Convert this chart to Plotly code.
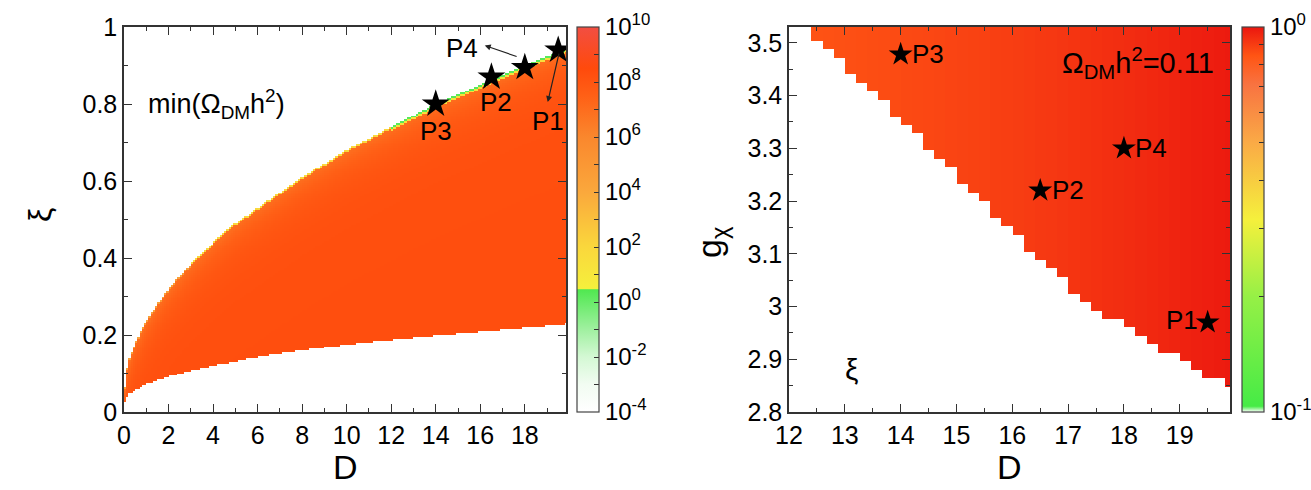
import numpy as np
import plotly.graph_objects as go

# ---------------- data ----------------
# Left panel: allowed region in (D, xi), upper and lower boundaries
D_up = [0, 0.1, 0.25, 0.5, 1, 1.5, 2, 3, 4, 5, 6, 8, 10, 12, 14, 16, 18, 19.9]
xi_up = [0.03, 0.10, 0.14, 0.18, 0.235, 0.28, 0.32, 0.385, 0.44, 0.49, 0.53,
         0.61, 0.68, 0.74, 0.80, 0.85, 0.90, 0.945]
D_lo = [0, 0.25, 0.5, 1, 2, 3, 4, 6, 8, 10, 12, 14, 16, 18, 19.9]
xi_lo = [0.022, 0.048, 0.058, 0.072, 0.092, 0.107, 0.12, 0.143, 0.16, 0.175,
         0.187, 0.198, 0.208, 0.218, 0.228]
# log10 of min(Omega h^2): interior, near-edge, edge rim values
logz_interior = 8.3
logz_edge_drop = 1.5
logz_rim_green = 0.3
logz_rim_yellow = 1.5

# Right panel: boundary of the Omega h^2 = 0.11 region in (D, g_chi)
g_edge = [2.80, 2.845, 2.9, 3.0, 3.1, 3.2, 3.3, 3.4, 3.5, 3.53]
D_edge = [21.0, 19.9, 19.0, 17.44, 16.37, 15.45, 14.5, 13.55, 12.6, 12.35]
# colour level across D (log10 of the plotted quantity)
D_col = [12, 14, 16, 18, 19.9]
logz_col = [-0.075, -0.062, -0.047, -0.027, -0.005]

# benchmark points
P_names = ["P1", "P2", "P3", "P4"]
P_D = [19.5, 16.5, 14.0, 18.0]
P_xi = [0.94, 0.87, 0.80, 0.895]
P_g = [2.97, 3.22, 3.478, 3.30]

# colour bar ticks
cb1_vals = list(range(-4, 11))
cb1_text = [f"10<sup>{v}</sup>" if v % 2 == 0 else "" for v in cb1_vals]
cb2_vals = [-1] + [float(np.log10(v)) for v in [0.2, 0.3, 0.4, 0.5, 0.6, 0.7, 0.8, 0.9]] + [0]
cb2_text = ["10<sup>-1</sup>"] + [""] * 8 + ["10<sup>0</sup>"]

# ---------------- build grids ----------------
dD1, dxi1 = 0.1, 0.005
Dc1 = np.arange(dD1 / 2, 19.9, dD1)
xic1 = np.arange(dxi1 / 2, 1.0, dxi1)
up = np.interp(Dc1, D_up, xi_up)
lo = np.interp(Dc1, D_lo, xi_lo)
Z1 = np.full((len(xic1), len(Dc1)), np.nan)
for j, d in enumerate(Dc1):
    inside = np.where((xic1 >= lo[j]) & (xic1 <= up[j]))[0]
    if len(inside) == 0:
        continue
    vals = logz_interior - logz_edge_drop * np.exp(-(up[j] - xic1[inside]) / 0.06)
    Z1[inside, j] = vals
    top = inside[-1]
    if d >= 12:
        Z1[top, j] = logz_rim_green
        if len(inside) > 1:
            Z1[inside[-2], j] = logz_rim_yellow
    elif d >= 3:
        Z1[top, j] = 2.0
    else:
        Z1[top, j] = 4.5

dD2, dg2 = 0.2, 0.016
Dc2 = np.arange(12.1, 20.0, dD2)
gc2 = np.arange(2.8 + dg2 / 2, 3.54, dg2)
edge = np.interp(gc2, g_edge, D_edge)
colv = np.interp(Dc2, D_col, logz_col)
Z2 = np.full((len(gc2), len(Dc2)), np.nan)
for i, g in enumerate(gc2):
    mask = Dc2 >= edge[i]
    Z2[i, mask] = colv[mask]

# ---------------- colour scales ----------------
def f1(v):
    return (v + 4) / 14.0

cs1 = [
    [0.0, "rgb(255,255,255)"],
    [f1(-3), "rgb(242,252,242)"],
    [f1(-2), "rgb(212,248,212)"],
    [f1(-1), "rgb(160,240,160)"],
    [f1(0.45), "rgb(80,232,80)"],
    [f1(0.47), "rgb(245,240,60)"],
    [f1(2), "rgb(250,215,60)"],
    [f1(4), "rgb(250,168,60)"],
    [f1(6), "rgb(250,135,45)"],
    [f1(7.5), "rgb(255,96,22)"],
    [f1(8.5), "rgb(255,74,12)"],
    [1.0, "rgb(242,78,66)"],
]
cs2 = [
    [0.0, "rgb(255,255,255)"],
    [0.015, "rgb(70,235,70)"],
    [0.3, "rgb(150,240,70)"],
    [0.5, "rgb(245,240,60)"],
    [0.7, "rgb(250,170,70)"],
    [0.85, "rgb(248,115,65)"],
    [0.925, "rgb(255,85,20)"],
    [1.0, "rgb(235,22,15)"],
]

FONT = "Liberation Sans, Arial, sans-serif"
W, H = 1311, 490

def px(x):
    return x / W

def py(y):
    return 1 - y / H

fig = go.Figure()
fig.add_trace(go.Heatmap(x=Dc1, y=xic1, z=Z1, coloraxis="coloraxis",
                         hoverongaps=False, xaxis="x", yaxis="y"))
fig.add_trace(go.Heatmap(x=Dc2, y=gc2, z=Z2, coloraxis="coloraxis2",
                         hoverongaps=False, xaxis="x2", yaxis="y2"))

fig.add_trace(go.Scatter(x=P_D, y=P_xi, mode="markers",
                         marker=dict(symbol="star", size=21, color="black"),
                         xaxis="x", yaxis="y", showlegend=False))
fig.add_trace(go.Scatter(x=P_D, y=P_g, mode="markers",
                         marker=dict(symbol="star", size=18, color="black"),
                         xaxis="x2", yaxis="y2", showlegend=False))

# plot-area geometry (pixels)
L1, R1, T, B = 124, 566, 27, 412
L2, R2 = 789, 1230
axcommon = dict(showline=True, linecolor="#333", linewidth=1.5, mirror="allticks",
                ticks="inside", ticklen=8, tickwidth=1.2, tickcolor="#333",
                showgrid=False, zeroline=False, automargin=False,
                tickfont=dict(family=FONT, size=25, color="black"))

cbcommon = dict(yanchor="middle", y=py((T + B) / 2), len=(B - T) / H, lenmode="fraction",
                thickness=22, thicknessmode="pixels", xpad=0, ypad=0,
                outlinewidth=1.2, outlinecolor="#444",
                ticks="inside", ticklen=5, tickcolor="#333",
                tickfont=dict(family=FONT, size=24, color="black"))

fig.update_layout(
    width=W, height=H, margin=dict(l=0, r=0, t=0, b=0, autoexpand=False),
    paper_bgcolor="white", plot_bgcolor="white", showlegend=False,
    font=dict(family=FONT, color="black"),
    xaxis=dict(domain=[px(L1), px(R1)], range=[0, 19.85], dtick=2, tick0=0,
               minor=dict(ticks="inside", dtick=1, ticklen=4, tickcolor="#333"),
               anchor="y", **axcommon),
    yaxis=dict(domain=[py(B), py(T)], range=[0, 1], dtick=0.2, tick0=0,
               minor=dict(ticks="inside", dtick=0.1, ticklen=4, tickcolor="#333"),
               anchor="x", **axcommon),
    xaxis2=dict(domain=[px(L2), px(R2)], range=[12, 19.9], dtick=1, tick0=12,
                minor=dict(ticks="inside", dtick=0.5, ticklen=4, tickcolor="#333"),
                anchor="y2", **axcommon),
    yaxis2=dict(domain=[py(B), py(T)], range=[2.8, 3.53], dtick=0.1, tick0=2.8,
                minor=dict(ticks="inside", dtick=0.05, ticklen=4, tickcolor="#333"),
                anchor="x2", **axcommon),
    coloraxis=dict(colorscale=cs1, cmin=-4, cmax=10,
                   colorbar=dict(x=px(577), xanchor="left",
                                 tickvals=cb1_vals, ticktext=cb1_text, **cbcommon)),
    coloraxis2=dict(colorscale=cs2, cmin=-1, cmax=0,
                    colorbar=dict(x=px(1242), xanchor="left",
                                  tickvals=cb2_vals, ticktext=cb2_text, **cbcommon)),
)


def note(x, y, text, size, xref="paper", yref="paper", xanchor="center", **kw):
    return dict(x=x, y=y, xref=xref, yref=yref, text=text, showarrow=False,
                xanchor=xanchor, yanchor="middle",
                font=dict(size=size, family=FONT, color="black"), **kw)


ann = []
# axis titles
ann.append(note(px((L1 + R1) / 2), py(467), "D", 34))
ann.append(note(px((L2 + R2) / 2), py(467), "D", 34))
ann.append(note(px(40), py(215), "ξ", 32, textangle=-90))
ann.append(note(px(712), py(242), "g<sub>χ</sub>", 34, textangle=-90))
# left panel texts
ann.append(note(1.0, 0.80, "min(Ω<sub>DM</sub>h<sup>2</sup>)", 27, "x", "y", "left"))
ann.append(note(14.0, 0.73, "P3", 26, "x", "y"))
ann.append(note(16.72, 0.805, "P2", 26, "x", "y"))
ann.append(note(19.03, 0.757, "P1", 26, "x", "y"))
ann.append(note(15.2, 0.945, "P4", 26, "x", "y"))
ann.append(dict(x=16.2, y=0.952, ax=17.7, ay=0.922, xref="x", yref="y",
                axref="x", ayref="y", text="", showarrow=True, arrowhead=2,
                arrowsize=1, arrowwidth=1.2, arrowcolor="#222"))
ann.append(dict(x=19.03, y=0.805, ax=19.55, ay=0.935, xref="x", yref="y",
                axref="x", ayref="y", text="", showarrow=True, arrowhead=2,
                arrowsize=1, arrowwidth=1.2, arrowcolor="#222"))
# right panel texts
ann.append(note(19.65, 3.462, "Ω<sub>DM</sub>h<sup>2</sup>=0.11", 29, "x2", "y2", "right"))
ann.append(note(14.17, 3.478, "P3", 26, "x2", "y2", "left"))
ann.append(note(16.67, 3.22, "P2", 26, "x2", "y2", "left"))
ann.append(note(18.17, 3.30, "P4", 26, "x2", "y2", "left"))
ann.append(note(19.37, 2.975, "P1", 26, "x2", "y2", "right"))
ann.append(note(13.12, 2.88, "ξ", 30, "x2", "y2"))
fig.update_layout(annotations=ann)

fig.write_html("out.html")
